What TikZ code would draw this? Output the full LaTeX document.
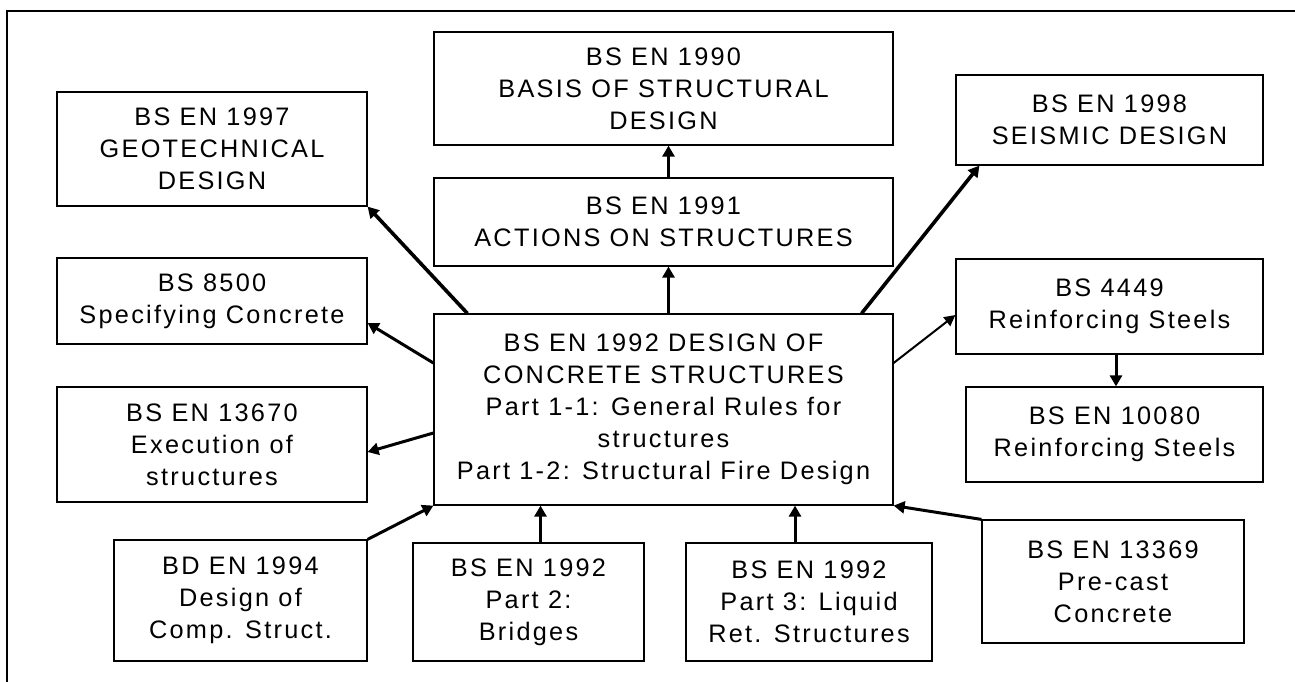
\documentclass[tikz,border=0pt]{standalone}
\usepackage{fontspec}
\setmainfont{Liberation Sans}[LetterSpace=9]
\usetikzlibrary{arrows.meta,calc}
\tikzset{
  box/.style={draw, line width=1.2pt, align=center, inner sep=0pt,
              font=\fontsize{25.3}{32}\selectfont},
  link/.style={line width=3pt, -{Triangle[length=11pt,width=12pt]}},
  biglink/.style={link, line width=3.6pt},
  thinlink/.style={line width=2pt, -{Triangle[length=11pt,width=11pt]}},
}
\begin{document}
\begin{tikzpicture}[x=1pt,y=-1pt]
\useasboundingbox (0,0) rectangle (1295,682);
% frame
\draw[line width=1.2pt] (7,682) -- (7,11) -- (1295,11);

% standards
\node[box,minimum width=310pt,minimum height=114pt] (n1997) at (212,149)
  {BS EN 1997\\GEOTECHNICAL\\DESIGN};
\node[box,minimum width=459pt,minimum height=113pt] (n1990) at (663.5,88.5)
  {BS EN 1990\\BASIS OF STRUCTURAL\\DESIGN};
\node[box,minimum width=459pt,minimum height=88pt] (n1991) at (663.5,222)
  {BS EN 1991\\ACTIONS ON STRUCTURES};
\node[box,minimum width=307pt,minimum height=90pt] (n1998) at (1109.5,120)
  {BS EN 1998\\SEISMIC DESIGN};
\node[box,minimum width=310pt,minimum height=86pt] (n8500) at (212,301)
  {BS 8500\\Specifying Concrete};
\node[box,minimum width=310pt,minimum height=115pt] (n13670) at (212,444.5)
  {BS EN 13670\\Execution of\\structures};
\node[box,minimum width=459pt,minimum height=191pt] (main) at (663.5,409.5)
  {BS EN 1992 DESIGN OF\\CONCRETE STRUCTURES\\Part 1-1: General Rules for\\structures\\Part 1-2: Structural Fire Design};
\node[box,minimum width=307pt,minimum height=95pt] (n4449) at (1109.5,306.5)
  {BS 4449\\Reinforcing Steels};
\node[box,minimum width=297pt,minimum height=95pt] (n10080) at (1114.5,434.5)
  {BS EN 10080\\Reinforcing Steels};
\node[box,minimum width=253pt,minimum height=121pt] (n1994) at (240.5,600.5)
  {BD EN 1994\\Design of\\Comp. Struct.};
\node[box,minimum width=231pt,minimum height=118pt] (p2) at (528.5,602)
  {BS EN 1992\\Part 2:\\Bridges};
\node[box,minimum width=246pt,minimum height=118pt] (p3) at (809,602)
  {BS EN 1992\\Part 3: Liquid\\Ret. Structures};
\node[box,minimum width=262pt,minimum height=123pt] (n13369) at (1113,581.5)
  {BS EN 13369\\Pre-cast\\Concrete};

% connectors
\draw[link] ([xshift=5pt]n1991.north) -- ([xshift=5pt]n1990.south);
\draw[link] ([xshift=5pt]main.north) -- ([xshift=5pt]n1991.south);
\draw[biglink] ([xshift=34pt]main.north west) -- (n1997.south east);
\draw[link] ([yshift=46.5pt]main.west) -- ([yshift=-22pt]n8500.east);
\draw[link] ([yshift=-23.5pt]main.west) -- ([yshift=-7.5pt]n13670.east);
\draw[link] (n1994.north east) -- (main.south west);
\draw[link] ([xshift=12pt]p2.north) -- ([xshift=12pt]p2.north |- main.south);
\draw[link] ([xshift=-14pt]p3.north) -- ([xshift=-14pt]p3.north |- main.south);
\draw[link] (n13369.north west) -- (main.south east);
\draw[biglink] ([xshift=-32pt]main.north east) -- ([xshift=24pt]n1998.south west);
\draw[thinlink] ([yshift=46.5pt]main.east) -- ([yshift=-8.5pt]n4449.west);
\draw[link] ([xshift=6.5pt]n4449.south) -- ([xshift=6.5pt]n4449.south |- n10080.north);
\end{tikzpicture}
\end{document}
